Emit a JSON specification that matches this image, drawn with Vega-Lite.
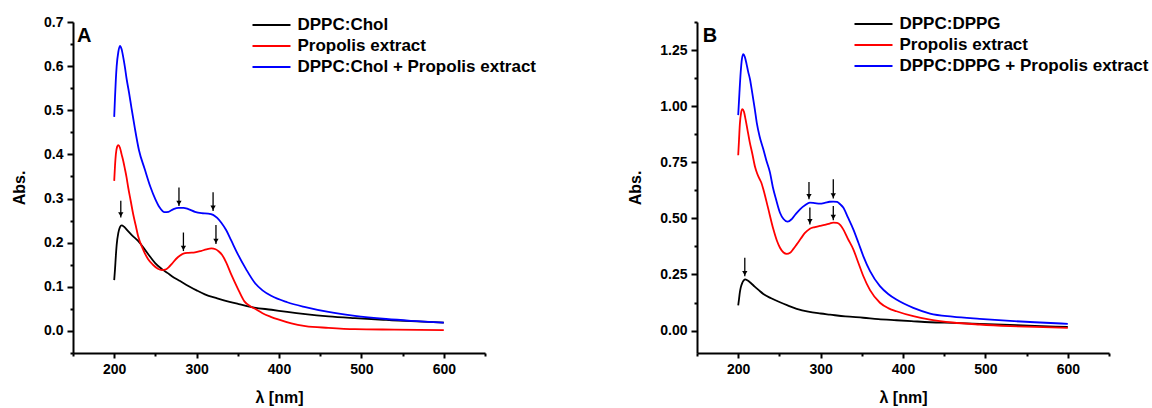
{
  "$schema": "https://vega.github.io/schema/vega-lite/v6.json",
  "padding": {"left": 11, "top": 13, "right": 5, "bottom": 5},
  "spacing": 90,
  "background": "white",
  "datasets": {
    "curvesA": [
      {"series": "DPPC:Chol", "wl": 200, "abs": 0.115},
      {"series": "DPPC:Chol", "wl": 201, "abs": 0.14},
      {"series": "DPPC:Chol", "wl": 202, "abs": 0.17},
      {"series": "DPPC:Chol", "wl": 203, "abs": 0.195},
      {"series": "DPPC:Chol", "wl": 205, "abs": 0.222},
      {"series": "DPPC:Chol", "wl": 207, "abs": 0.235},
      {"series": "DPPC:Chol", "wl": 209, "abs": 0.239},
      {"series": "DPPC:Chol", "wl": 212, "abs": 0.236},
      {"series": "DPPC:Chol", "wl": 216, "abs": 0.228},
      {"series": "DPPC:Chol", "wl": 222, "abs": 0.216},
      {"series": "DPPC:Chol", "wl": 229, "abs": 0.204},
      {"series": "DPPC:Chol", "wl": 235, "abs": 0.19},
      {"series": "DPPC:Chol", "wl": 242, "abs": 0.172},
      {"series": "DPPC:Chol", "wl": 250, "abs": 0.153},
      {"series": "DPPC:Chol", "wl": 258, "abs": 0.14},
      {"series": "DPPC:Chol", "wl": 265, "abs": 0.131},
      {"series": "DPPC:Chol", "wl": 270, "abs": 0.124},
      {"series": "DPPC:Chol", "wl": 280, "abs": 0.113},
      {"series": "DPPC:Chol", "wl": 290, "abs": 0.102},
      {"series": "DPPC:Chol", "wl": 300, "abs": 0.092},
      {"series": "DPPC:Chol", "wl": 310, "abs": 0.083},
      {"series": "DPPC:Chol", "wl": 325, "abs": 0.074},
      {"series": "DPPC:Chol", "wl": 340, "abs": 0.066},
      {"series": "DPPC:Chol", "wl": 351, "abs": 0.061},
      {"series": "DPPC:Chol", "wl": 370, "abs": 0.053},
      {"series": "DPPC:Chol", "wl": 391, "abs": 0.048},
      {"series": "DPPC:Chol", "wl": 410, "abs": 0.043},
      {"series": "DPPC:Chol", "wl": 432, "abs": 0.038},
      {"series": "DPPC:Chol", "wl": 460, "abs": 0.033},
      {"series": "DPPC:Chol", "wl": 492, "abs": 0.029},
      {"series": "DPPC:Chol", "wl": 530, "abs": 0.025},
      {"series": "DPPC:Chol", "wl": 560, "abs": 0.022},
      {"series": "DPPC:Chol", "wl": 600, "abs": 0.019},
      {"series": "Propolis extract", "wl": 200, "abs": 0.34},
      {"series": "Propolis extract", "wl": 201, "abs": 0.375},
      {"series": "Propolis extract", "wl": 202, "abs": 0.4},
      {"series": "Propolis extract", "wl": 203.5, "abs": 0.417},
      {"series": "Propolis extract", "wl": 205, "abs": 0.421},
      {"series": "Propolis extract", "wl": 207, "abs": 0.415},
      {"series": "Propolis extract", "wl": 209, "abs": 0.4},
      {"series": "Propolis extract", "wl": 211, "abs": 0.385},
      {"series": "Propolis extract", "wl": 213, "abs": 0.367},
      {"series": "Propolis extract", "wl": 215, "abs": 0.348},
      {"series": "Propolis extract", "wl": 217, "abs": 0.325},
      {"series": "Propolis extract", "wl": 220, "abs": 0.295},
      {"series": "Propolis extract", "wl": 223, "abs": 0.265},
      {"series": "Propolis extract", "wl": 226, "abs": 0.24},
      {"series": "Propolis extract", "wl": 229, "abs": 0.215},
      {"series": "Propolis extract", "wl": 235, "abs": 0.185},
      {"series": "Propolis extract", "wl": 241, "abs": 0.163},
      {"series": "Propolis extract", "wl": 247, "abs": 0.15},
      {"series": "Propolis extract", "wl": 253, "abs": 0.141},
      {"series": "Propolis extract", "wl": 258, "abs": 0.138},
      {"series": "Propolis extract", "wl": 262, "abs": 0.139},
      {"series": "Propolis extract", "wl": 266, "abs": 0.144},
      {"series": "Propolis extract", "wl": 270, "abs": 0.152},
      {"series": "Propolis extract", "wl": 275, "abs": 0.163},
      {"series": "Propolis extract", "wl": 280, "abs": 0.171},
      {"series": "Propolis extract", "wl": 284, "abs": 0.175},
      {"series": "Propolis extract", "wl": 290, "abs": 0.177},
      {"series": "Propolis extract", "wl": 298, "abs": 0.178},
      {"series": "Propolis extract", "wl": 305, "abs": 0.181},
      {"series": "Propolis extract", "wl": 312, "abs": 0.185},
      {"series": "Propolis extract", "wl": 318, "abs": 0.187},
      {"series": "Propolis extract", "wl": 323, "abs": 0.185},
      {"series": "Propolis extract", "wl": 327, "abs": 0.18},
      {"series": "Propolis extract", "wl": 331, "abs": 0.172},
      {"series": "Propolis extract", "wl": 336, "abs": 0.155},
      {"series": "Propolis extract", "wl": 342, "abs": 0.128},
      {"series": "Propolis extract", "wl": 350, "abs": 0.096},
      {"series": "Propolis extract", "wl": 358, "abs": 0.067},
      {"series": "Propolis extract", "wl": 366, "abs": 0.055},
      {"series": "Propolis extract", "wl": 372, "abs": 0.049},
      {"series": "Propolis extract", "wl": 380, "abs": 0.04},
      {"series": "Propolis extract", "wl": 390, "abs": 0.032},
      {"series": "Propolis extract", "wl": 399, "abs": 0.026},
      {"series": "Propolis extract", "wl": 415, "abs": 0.017},
      {"series": "Propolis extract", "wl": 432, "abs": 0.011},
      {"series": "Propolis extract", "wl": 460, "abs": 0.007},
      {"series": "Propolis extract", "wl": 492, "abs": 0.004},
      {"series": "Propolis extract", "wl": 540, "abs": 0.003},
      {"series": "Propolis extract", "wl": 600, "abs": 0.002},
      {"series": "DPPC:Chol + Propolis extract", "wl": 200, "abs": 0.485},
      {"series": "DPPC:Chol + Propolis extract", "wl": 201, "abs": 0.53},
      {"series": "DPPC:Chol + Propolis extract", "wl": 202, "abs": 0.57},
      {"series": "DPPC:Chol + Propolis extract", "wl": 203, "abs": 0.6},
      {"series": "DPPC:Chol + Propolis extract", "wl": 205, "abs": 0.632},
      {"series": "DPPC:Chol + Propolis extract", "wl": 207, "abs": 0.646},
      {"series": "DPPC:Chol + Propolis extract", "wl": 209, "abs": 0.638},
      {"series": "DPPC:Chol + Propolis extract", "wl": 211, "abs": 0.62},
      {"series": "DPPC:Chol + Propolis extract", "wl": 213, "abs": 0.598},
      {"series": "DPPC:Chol + Propolis extract", "wl": 215, "abs": 0.572},
      {"series": "DPPC:Chol + Propolis extract", "wl": 218, "abs": 0.54},
      {"series": "DPPC:Chol + Propolis extract", "wl": 221, "abs": 0.505},
      {"series": "DPPC:Chol + Propolis extract", "wl": 225, "abs": 0.46},
      {"series": "DPPC:Chol + Propolis extract", "wl": 230, "abs": 0.41},
      {"series": "DPPC:Chol + Propolis extract", "wl": 237, "abs": 0.367},
      {"series": "DPPC:Chol + Propolis extract", "wl": 244, "abs": 0.326},
      {"series": "DPPC:Chol + Propolis extract", "wl": 250, "abs": 0.298},
      {"series": "DPPC:Chol + Propolis extract", "wl": 255, "abs": 0.28},
      {"series": "DPPC:Chol + Propolis extract", "wl": 261, "abs": 0.269},
      {"series": "DPPC:Chol + Propolis extract", "wl": 266, "abs": 0.27},
      {"series": "DPPC:Chol + Propolis extract", "wl": 272, "abs": 0.276},
      {"series": "DPPC:Chol + Propolis extract", "wl": 278, "abs": 0.279},
      {"series": "DPPC:Chol + Propolis extract", "wl": 284, "abs": 0.279},
      {"series": "DPPC:Chol + Propolis extract", "wl": 290, "abs": 0.276},
      {"series": "DPPC:Chol + Propolis extract", "wl": 298, "abs": 0.27},
      {"series": "DPPC:Chol + Propolis extract", "wl": 306, "abs": 0.267},
      {"series": "DPPC:Chol + Propolis extract", "wl": 314, "abs": 0.266},
      {"series": "DPPC:Chol + Propolis extract", "wl": 320, "abs": 0.263},
      {"series": "DPPC:Chol + Propolis extract", "wl": 325, "abs": 0.256},
      {"series": "DPPC:Chol + Propolis extract", "wl": 330, "abs": 0.245},
      {"series": "DPPC:Chol + Propolis extract", "wl": 336, "abs": 0.228},
      {"series": "DPPC:Chol + Propolis extract", "wl": 342, "abs": 0.205},
      {"series": "DPPC:Chol + Propolis extract", "wl": 350, "abs": 0.174},
      {"series": "DPPC:Chol + Propolis extract", "wl": 360, "abs": 0.14},
      {"series": "DPPC:Chol + Propolis extract", "wl": 371, "abs": 0.108},
      {"series": "DPPC:Chol + Propolis extract", "wl": 380, "abs": 0.092},
      {"series": "DPPC:Chol + Propolis extract", "wl": 391, "abs": 0.079},
      {"series": "DPPC:Chol + Propolis extract", "wl": 410, "abs": 0.065},
      {"series": "DPPC:Chol + Propolis extract", "wl": 432, "abs": 0.054},
      {"series": "DPPC:Chol + Propolis extract", "wl": 460, "abs": 0.043},
      {"series": "DPPC:Chol + Propolis extract", "wl": 492, "abs": 0.034},
      {"series": "DPPC:Chol + Propolis extract", "wl": 530, "abs": 0.027},
      {"series": "DPPC:Chol + Propolis extract", "wl": 560, "abs": 0.023},
      {"series": "DPPC:Chol + Propolis extract", "wl": 600, "abs": 0.019}
    ],
    "curvesB": [
      {"series": "DPPC:DPPG", "wl": 200, "abs": 0.112},
      {"series": "DPPC:DPPG", "wl": 201, "abs": 0.14},
      {"series": "DPPC:DPPG", "wl": 202, "abs": 0.17},
      {"series": "DPPC:DPPG", "wl": 203, "abs": 0.19},
      {"series": "DPPC:DPPG", "wl": 205, "abs": 0.213},
      {"series": "DPPC:DPPG", "wl": 207, "abs": 0.225},
      {"series": "DPPC:DPPG", "wl": 208.5, "abs": 0.228},
      {"series": "DPPC:DPPG", "wl": 211, "abs": 0.224},
      {"series": "DPPC:DPPG", "wl": 215, "abs": 0.213},
      {"series": "DPPC:DPPG", "wl": 220, "abs": 0.196},
      {"series": "DPPC:DPPG", "wl": 225, "abs": 0.18},
      {"series": "DPPC:DPPG", "wl": 230.5, "abs": 0.163},
      {"series": "DPPC:DPPG", "wl": 240, "abs": 0.144},
      {"series": "DPPC:DPPG", "wl": 250.7, "abs": 0.126},
      {"series": "DPPC:DPPG", "wl": 260, "abs": 0.112},
      {"series": "DPPC:DPPG", "wl": 271, "abs": 0.097},
      {"series": "DPPC:DPPG", "wl": 285, "abs": 0.084},
      {"series": "DPPC:DPPG", "wl": 300, "abs": 0.076},
      {"series": "DPPC:DPPG", "wl": 311.5, "abs": 0.071},
      {"series": "DPPC:DPPG", "wl": 330, "abs": 0.063},
      {"series": "DPPC:DPPG", "wl": 351.8, "abs": 0.057},
      {"series": "DPPC:DPPG", "wl": 370, "abs": 0.051},
      {"series": "DPPC:DPPG", "wl": 392, "abs": 0.046},
      {"series": "DPPC:DPPG", "wl": 410, "abs": 0.042},
      {"series": "DPPC:DPPG", "wl": 432.8, "abs": 0.037},
      {"series": "DPPC:DPPG", "wl": 460, "abs": 0.034},
      {"series": "DPPC:DPPG", "wl": 493, "abs": 0.03},
      {"series": "DPPC:DPPG", "wl": 530, "abs": 0.025},
      {"series": "DPPC:DPPG", "wl": 560, "abs": 0.021},
      {"series": "DPPC:DPPG", "wl": 600, "abs": 0.016},
      {"series": "Propolis extract", "wl": 200, "abs": 0.781},
      {"series": "Propolis extract", "wl": 201, "abs": 0.85},
      {"series": "Propolis extract", "wl": 202, "abs": 0.92},
      {"series": "Propolis extract", "wl": 203.5, "abs": 0.97},
      {"series": "Propolis extract", "wl": 205, "abs": 0.987},
      {"series": "Propolis extract", "wl": 207, "abs": 0.975},
      {"series": "Propolis extract", "wl": 209, "abs": 0.94},
      {"series": "Propolis extract", "wl": 211, "abs": 0.9},
      {"series": "Propolis extract", "wl": 214, "abs": 0.84},
      {"series": "Propolis extract", "wl": 217, "abs": 0.79},
      {"series": "Propolis extract", "wl": 220.4, "abs": 0.73},
      {"series": "Propolis extract", "wl": 223, "abs": 0.7},
      {"series": "Propolis extract", "wl": 226, "abs": 0.675},
      {"series": "Propolis extract", "wl": 228, "abs": 0.66},
      {"series": "Propolis extract", "wl": 230.5, "abs": 0.63},
      {"series": "Propolis extract", "wl": 236, "abs": 0.55},
      {"series": "Propolis extract", "wl": 242.7, "abs": 0.451},
      {"series": "Propolis extract", "wl": 247, "abs": 0.4},
      {"series": "Propolis extract", "wl": 250.7, "abs": 0.369},
      {"series": "Propolis extract", "wl": 255, "abs": 0.348},
      {"series": "Propolis extract", "wl": 258.8, "abs": 0.342},
      {"series": "Propolis extract", "wl": 263, "abs": 0.347},
      {"series": "Propolis extract", "wl": 267, "abs": 0.364},
      {"series": "Propolis extract", "wl": 271, "abs": 0.384},
      {"series": "Propolis extract", "wl": 276, "abs": 0.41},
      {"series": "Propolis extract", "wl": 281, "abs": 0.435},
      {"series": "Propolis extract", "wl": 287, "abs": 0.454},
      {"series": "Propolis extract", "wl": 293, "abs": 0.461},
      {"series": "Propolis extract", "wl": 299, "abs": 0.466},
      {"series": "Propolis extract", "wl": 305, "abs": 0.471},
      {"series": "Propolis extract", "wl": 311, "abs": 0.477},
      {"series": "Propolis extract", "wl": 315.4, "abs": 0.481},
      {"series": "Propolis extract", "wl": 320, "abs": 0.48},
      {"series": "Propolis extract", "wl": 324, "abs": 0.47},
      {"series": "Propolis extract", "wl": 327.5, "abs": 0.451},
      {"series": "Propolis extract", "wl": 333, "abs": 0.41},
      {"series": "Propolis extract", "wl": 339.7, "abs": 0.362},
      {"series": "Propolis extract", "wl": 346, "abs": 0.3},
      {"series": "Propolis extract", "wl": 351.8, "abs": 0.243},
      {"series": "Propolis extract", "wl": 360, "abs": 0.18},
      {"series": "Propolis extract", "wl": 372, "abs": 0.124},
      {"series": "Propolis extract", "wl": 382, "abs": 0.1},
      {"series": "Propolis extract", "wl": 392, "abs": 0.086},
      {"series": "Propolis extract", "wl": 412.5, "abs": 0.064},
      {"series": "Propolis extract", "wl": 432.8, "abs": 0.049},
      {"series": "Propolis extract", "wl": 460, "abs": 0.036},
      {"series": "Propolis extract", "wl": 493, "abs": 0.027},
      {"series": "Propolis extract", "wl": 530, "abs": 0.02},
      {"series": "Propolis extract", "wl": 560, "abs": 0.016},
      {"series": "Propolis extract", "wl": 600, "abs": 0.012},
      {"series": "DPPC:DPPG + Propolis extract", "wl": 200, "abs": 0.96},
      {"series": "DPPC:DPPG + Propolis extract", "wl": 201.5, "abs": 1.06},
      {"series": "DPPC:DPPG + Propolis extract", "wl": 203, "abs": 1.15},
      {"series": "DPPC:DPPG + Propolis extract", "wl": 204.5, "abs": 1.21},
      {"series": "DPPC:DPPG + Propolis extract", "wl": 206.2, "abs": 1.232},
      {"series": "DPPC:DPPG + Propolis extract", "wl": 208, "abs": 1.22},
      {"series": "DPPC:DPPG + Propolis extract", "wl": 210, "abs": 1.19},
      {"series": "DPPC:DPPG + Propolis extract", "wl": 212, "abs": 1.155},
      {"series": "DPPC:DPPG + Propolis extract", "wl": 214.3, "abs": 1.12},
      {"series": "DPPC:DPPG + Propolis extract", "wl": 217, "abs": 1.06},
      {"series": "DPPC:DPPG + Propolis extract", "wl": 220, "abs": 0.99},
      {"series": "DPPC:DPPG + Propolis extract", "wl": 222.5, "abs": 0.927},
      {"series": "DPPC:DPPG + Propolis extract", "wl": 226, "abs": 0.865},
      {"series": "DPPC:DPPG + Propolis extract", "wl": 230.5, "abs": 0.808},
      {"series": "DPPC:DPPG + Propolis extract", "wl": 234, "abs": 0.76},
      {"series": "DPPC:DPPG + Propolis extract", "wl": 238.6, "abs": 0.704},
      {"series": "DPPC:DPPG + Propolis extract", "wl": 242, "abs": 0.64},
      {"series": "DPPC:DPPG + Propolis extract", "wl": 245.9, "abs": 0.585},
      {"series": "DPPC:DPPG + Propolis extract", "wl": 250.7, "abs": 0.525},
      {"series": "DPPC:DPPG + Propolis extract", "wl": 255, "abs": 0.497},
      {"series": "DPPC:DPPG + Propolis extract", "wl": 260, "abs": 0.485},
      {"series": "DPPC:DPPG + Propolis extract", "wl": 265, "abs": 0.497},
      {"series": "DPPC:DPPG + Propolis extract", "wl": 270, "abs": 0.52},
      {"series": "DPPC:DPPG + Propolis extract", "wl": 275, "abs": 0.54},
      {"series": "DPPC:DPPG + Propolis extract", "wl": 281, "abs": 0.558},
      {"series": "DPPC:DPPG + Propolis extract", "wl": 287, "abs": 0.57},
      {"series": "DPPC:DPPG + Propolis extract", "wl": 293, "abs": 0.568},
      {"series": "DPPC:DPPG + Propolis extract", "wl": 299, "abs": 0.566},
      {"series": "DPPC:DPPG + Propolis extract", "wl": 305, "abs": 0.569},
      {"series": "DPPC:DPPG + Propolis extract", "wl": 311, "abs": 0.574},
      {"series": "DPPC:DPPG + Propolis extract", "wl": 315.4, "abs": 0.575},
      {"series": "DPPC:DPPG + Propolis extract", "wl": 320, "abs": 0.573},
      {"series": "DPPC:DPPG + Propolis extract", "wl": 324, "abs": 0.562},
      {"series": "DPPC:DPPG + Propolis extract", "wl": 327.5, "abs": 0.548},
      {"series": "DPPC:DPPG + Propolis extract", "wl": 333, "abs": 0.505},
      {"series": "DPPC:DPPG + Propolis extract", "wl": 339.7, "abs": 0.451},
      {"series": "DPPC:DPPG + Propolis extract", "wl": 346, "abs": 0.39},
      {"series": "DPPC:DPPG + Propolis extract", "wl": 351.8, "abs": 0.332},
      {"series": "DPPC:DPPG + Propolis extract", "wl": 360, "abs": 0.265},
      {"series": "DPPC:DPPG + Propolis extract", "wl": 372, "abs": 0.198},
      {"series": "DPPC:DPPG + Propolis extract", "wl": 382, "abs": 0.163},
      {"series": "DPPC:DPPG + Propolis extract", "wl": 392, "abs": 0.138},
      {"series": "DPPC:DPPG + Propolis extract", "wl": 412.5, "abs": 0.101},
      {"series": "DPPC:DPPG + Propolis extract", "wl": 432.8, "abs": 0.076},
      {"series": "DPPC:DPPG + Propolis extract", "wl": 460, "abs": 0.062},
      {"series": "DPPC:DPPG + Propolis extract", "wl": 493, "abs": 0.052},
      {"series": "DPPC:DPPG + Propolis extract", "wl": 530, "abs": 0.043},
      {"series": "DPPC:DPPG + Propolis extract", "wl": 560, "abs": 0.037},
      {"series": "DPPC:DPPG + Propolis extract", "wl": 600, "abs": 0.03}
    ],
    "arrowsA": [
      {"wl": 208, "y1": 0.295, "y2": 0.257},
      {"wl": 278.6, "y1": 0.325, "y2": 0.283},
      {"wl": 320, "y1": 0.314, "y2": 0.272},
      {"wl": 284, "y1": 0.223, "y2": 0.181},
      {"wl": 323.5, "y1": 0.24, "y2": 0.197}
    ],
    "arrowsB": [
      {"wl": 208, "y1": 0.325, "y2": 0.242},
      {"wl": 285.9, "y1": 0.662, "y2": 0.585},
      {"wl": 315.4, "y1": 0.674, "y2": 0.588},
      {"wl": 287, "y1": 0.548, "y2": 0.473},
      {"wl": 315.4, "y1": 0.555, "y2": 0.492}
    ],
    "labelA": [{"label": "A", "wl": 155, "abs": 0.668}],
    "labelB": [{"label": "B", "wl": 157, "abs": 1.314}]
  },
  "config": {
    "view": {"stroke": null},
    "axis": {
      "grid": false,
      "labelFont": "Liberation Sans",
      "labelFontWeight": "bold",
      "labelFontSize": 14,
      "labelColor": "black",
      "titleFont": "Liberation Sans",
      "titleFontWeight": "bold",
      "titleFontSize": 16,
      "titleColor": "black",
      "domainColor": "black",
      "domainWidth": 2,
      "tickColor": "black",
      "tickWidth": 2
    },
    "legend": {
      "labelFont": "Liberation Sans",
      "labelFontWeight": "bold",
      "labelFontSize": 17,
      "labelColor": "black",
      "labelLimit": 400,
      "symbolType": "M-2,0H2",
      "symbolStrokeWidth": 2,
      "symbolSize": 361,
      "labelOffset": 15.5,
      "rowPadding": 2,
      "title": null
    }
  },
  "resolve": {"scale": {"color": "independent"}, "legend": {"color": "independent"}},
  "hconcat": [
    {
      "width": 412,
      "height": 331,
      "resolve": {"axis": {"x": "independent", "y": "independent"}},
      "layer": [
        {
          "data": {"name": "curvesA"},
          "mark": {"type": "line", "strokeWidth": 1.8, "interpolate": "monotone"},
          "encoding": {
            "x": {"field": "wl", "type": "quantitative",
              "scale": {"domain": [150, 650], "nice": false, "zero": false},
              "axis": {"orient": "bottom", "values": [200, 300, 400, 500, 600], "title": "λ [nm]", "tickSize": 5, "labelPadding": 4, "titlePadding": 13}},
            "y": {"field": "abs", "type": "quantitative",
              "scale": {"domain": [-0.05, 0.7], "nice": false, "zero": false},
              "axis": {"orient": "left", "values": [0, 0.1, 0.2, 0.3, 0.4, 0.5, 0.6, 0.7], "format": ".1f", "title": "Abs.", "tickSize": 6, "labelPadding": 4, "titlePadding": 16}},
            "color": {"field": "series", "type": "nominal",
              "scale": {"domain": ["DPPC:Chol", "Propolis extract", "DPPC:Chol + Propolis extract"], "range": ["#000000", "#ff0000", "#0000ff"]},
              "legend": {"orient": "none", "legendX": 188, "legendY": -7.5}}
          }
        },
        {
          "data": {"name": "arrowsA"},
          "mark": {"type": "rule", "color": "black", "strokeWidth": 1.3},
          "encoding": {
            "x": {"field": "wl", "type": "quantitative",
              "scale": {"domain": [150, 650], "nice": false, "zero": false},
              "axis": {"orient": "bottom", "values": [150, 250, 350, 450, 550, 650], "labels": false, "domain": false, "title": null, "tickSize": 3}},
            "y": {"field": "y1", "type": "quantitative",
              "scale": {"domain": [-0.05, 0.7], "nice": false, "zero": false},
              "axis": {"orient": "left", "values": [-0.05, 0.05, 0.15, 0.25, 0.35, 0.45, 0.55, 0.65], "labels": false, "domain": false, "title": null, "tickSize": 3}},
            "y2": {"field": "y2"}
          }
        },
        {
          "data": {"name": "arrowsA"},
          "mark": {"type": "point", "shape": "triangle-down", "filled": true, "color": "black", "size": 28, "opacity": 1, "yOffset": -3},
          "encoding": {
            "x": {"field": "wl", "type": "quantitative", "scale": {"domain": [150, 650], "nice": false, "zero": false}, "axis": null},
            "y": {"field": "y2", "type": "quantitative", "scale": {"domain": [-0.05, 0.7], "nice": false, "zero": false}, "axis": null}
          }
        },
        {
          "data": {"name": "labelA"},
          "mark": {"type": "text", "font": "Liberation Sans", "fontWeight": "bold", "fontSize": 20, "align": "left", "baseline": "middle", "color": "black"},
          "encoding": {
            "x": {"field": "wl", "type": "quantitative", "scale": {"domain": [150, 650], "nice": false, "zero": false}, "axis": null},
            "y": {"field": "abs", "type": "quantitative", "scale": {"domain": [-0.05, 0.7], "nice": false, "zero": false}, "axis": null},
            "text": {"field": "label"}
          }
        }
      ]
    },
    {
      "width": 412,
      "height": 331,
      "resolve": {"axis": {"x": "independent", "y": "independent"}},
      "layer": [
        {
          "data": {"name": "curvesB"},
          "mark": {"type": "line", "strokeWidth": 1.8, "interpolate": "monotone"},
          "encoding": {
            "x": {"field": "wl", "type": "quantitative",
              "scale": {"domain": [150, 650], "nice": false, "zero": false},
              "axis": {"orient": "bottom", "values": [200, 300, 400, 500, 600], "title": "λ [nm]", "tickSize": 5, "labelPadding": 4, "titlePadding": 13}},
            "y": {"field": "abs", "type": "quantitative",
              "scale": {"domain": [-0.1, 1.375], "nice": false, "zero": false},
              "axis": {"orient": "left", "values": [0, 0.25, 0.5, 0.75, 1, 1.25], "format": ".2f", "title": "Abs.", "tickSize": 6, "labelPadding": 4, "titlePadding": 16}},
            "color": {"field": "series", "type": "nominal",
              "scale": {"domain": ["DPPC:DPPG", "Propolis extract", "DPPC:DPPG + Propolis extract"], "range": ["#000000", "#ff0000", "#0000ff"]},
              "legend": {"orient": "none", "legendX": 166, "legendY": -8.5}}
          }
        },
        {
          "data": {"name": "arrowsB"},
          "mark": {"type": "rule", "color": "black", "strokeWidth": 1.3},
          "encoding": {
            "x": {"field": "wl", "type": "quantitative",
              "scale": {"domain": [150, 650], "nice": false, "zero": false},
              "axis": {"orient": "bottom", "values": [150, 250, 350, 450, 550, 650], "labels": false, "domain": false, "title": null, "tickSize": 3}},
            "y": {"field": "y1", "type": "quantitative",
              "scale": {"domain": [-0.1, 1.375], "nice": false, "zero": false},
              "axis": {"orient": "left", "values": [0.125, 0.375, 0.625, 0.875, 1.125, 1.375], "labels": false, "domain": false, "title": null, "tickSize": 3}},
            "y2": {"field": "y2"}
          }
        },
        {
          "data": {"name": "arrowsB"},
          "mark": {"type": "point", "shape": "triangle-down", "filled": true, "color": "black", "size": 28, "opacity": 1, "yOffset": -3},
          "encoding": {
            "x": {"field": "wl", "type": "quantitative", "scale": {"domain": [150, 650], "nice": false, "zero": false}, "axis": null},
            "y": {"field": "y2", "type": "quantitative", "scale": {"domain": [-0.1, 1.375], "nice": false, "zero": false}, "axis": null}
          }
        },
        {
          "data": {"name": "labelB"},
          "mark": {"type": "text", "font": "Liberation Sans", "fontWeight": "bold", "fontSize": 20, "align": "left", "baseline": "middle", "color": "black"},
          "encoding": {
            "x": {"field": "wl", "type": "quantitative", "scale": {"domain": [150, 650], "nice": false, "zero": false}, "axis": null},
            "y": {"field": "abs", "type": "quantitative", "scale": {"domain": [-0.1, 1.375], "nice": false, "zero": false}, "axis": null},
            "text": {"field": "label"}
          }
        }
      ]
    }
  ]
}
